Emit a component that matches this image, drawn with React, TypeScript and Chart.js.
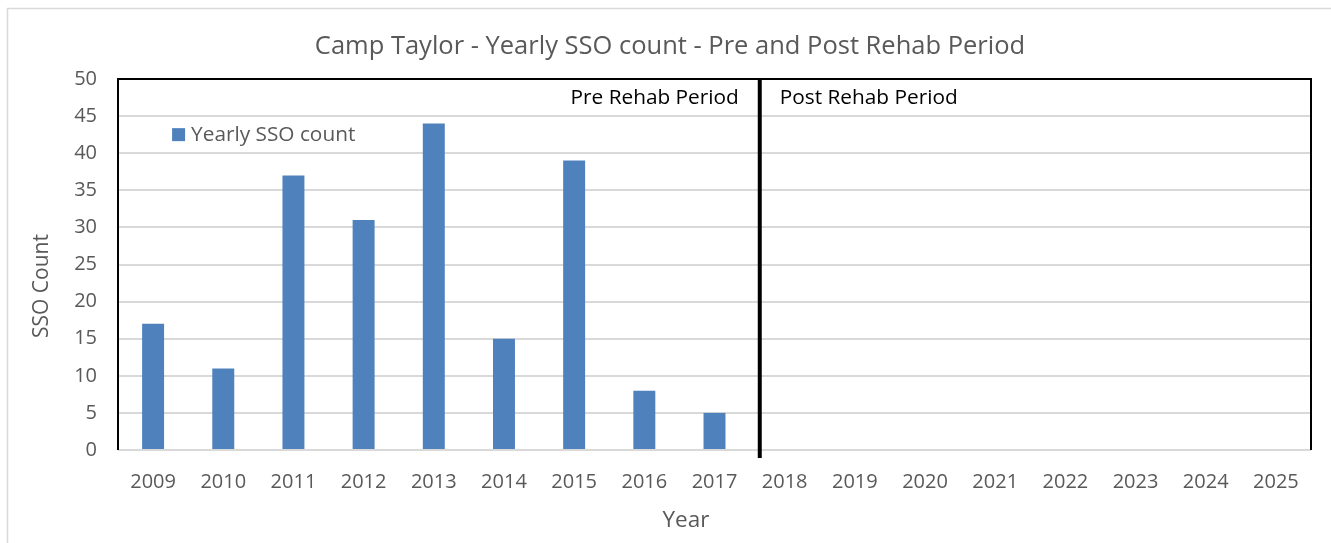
import React, { useEffect, useRef } from "react";
import { Chart, registerables } from "chart.js";

Chart.register(...registerables);

const TITLE = "Camp Taylor - Yearly SSO count - Pre and Post Rehab Period";
const X_TITLE = "Year";
const Y_TITLE = "SSO Count";
const SERIES_LABEL = "Yearly SSO count";
const YEARS = ["2009", "2010", "2011", "2012", "2013", "2014", "2015", "2016", "2017", "2018", "2019", "2020", "2021", "2022", "2023", "2024", "2025"];
const SSO_COUNTS = [17, 11, 37, 31, 44, 15, 39, 8, 5, 0, 0, 0, 0, 0, 0, 0, 0];
const Y_MIN = 0;
const Y_MAX = 50;
const Y_STEP = 5;
const DIVIDER_AFTER = "2017";
const DIVIDER_OFFSET = 0.645; // fraction of a category past the divider category's centre
const PRE_LABEL = "Pre Rehab Period";
const POST_LABEL = "Post Rehab Period";

const FONT = "'Open Sans', 'DejaVu Sans', sans-serif";
const GREY_TEXT = "#595959";
const BAR_COLOR = "#4F81BD";
const GRID_COLOR = "#D9D9D9";

const decorPlugin = {
  id: "decor",
  beforeDraw(chart: any) {
    const { ctx } = chart;
    ctx.save();
    ctx.strokeStyle = GRID_COLOR;
    ctx.lineWidth = 1.5;
    ctx.beginPath();
    ctx.moveTo(7.5, chart.height);
    ctx.lineTo(7.5, 8.5);
    ctx.lineTo(chart.width, 8.5);
    ctx.stroke();
    ctx.restore();
  },
  afterDraw(chart: any) {
    const { ctx, chartArea } = chart;
    const { left, right, top, bottom } = chartArea;
    const xs = chart.scales.x;
    ctx.save();
    // plot border (left, top, right)
    ctx.strokeStyle = "#000000";
    ctx.lineWidth = 2;
    ctx.beginPath();
    ctx.moveTo(left, bottom);
    ctx.lineTo(left, top);
    ctx.lineTo(right, top);
    ctx.lineTo(right, bottom);
    ctx.stroke();

    // divider
    const idx = YEARS.indexOf(DIVIDER_AFTER);
    const cw = xs.getPixelForValue(idx + 1) - xs.getPixelForValue(idx);
    const dx = xs.getPixelForValue(idx) + cw * DIVIDER_OFFSET;
    ctx.lineWidth = 4;
    ctx.beginPath();
    ctx.moveTo(dx, top);
    ctx.lineTo(dx, bottom + 8);
    ctx.stroke();

    // period labels
    ctx.fillStyle = "#000000";
    ctx.font = `20.8px ${FONT}`;
    ctx.textBaseline = "middle";
    const ly = chart.scales.y.getPixelForValue(47.4);
    ctx.textAlign = "right";
    ctx.fillText(PRE_LABEL, dx - 21, ly);
    ctx.textAlign = "left";
    ctx.fillText(POST_LABEL, dx + 20, ly);

    // legend
    const legY = chart.scales.y.getPixelForValue(42.5);
    const lx = xs.getPixelForValue(0) + 19;
    ctx.fillStyle = BAR_COLOR;
    ctx.fillRect(lx, legY - 6.5, 13, 13);
    ctx.fillStyle = GREY_TEXT;
    ctx.textAlign = "left";
    ctx.fillText(SERIES_LABEL, lx + 19, legY);

    // title
    ctx.font = `25.5px ${FONT}`;
    ctx.textAlign = "center";
    ctx.fillText(TITLE, 670, 47);

    // axis titles
    ctx.font = `22.5px ${FONT}`;
    ctx.fillText(X_TITLE, 686, 521);
    ctx.font = `21px ${FONT}`;
    ctx.translate(42, 286);
    ctx.rotate(-Math.PI / 2);
    ctx.fillText(Y_TITLE, 0, 0);
    ctx.restore();
  },
};

export default function App() {
  const ref = useRef<HTMLCanvasElement | null>(null);

  useEffect(() => {
    if (!ref.current) return;
    const chart = new Chart(ref.current, {
      type: "bar",
      data: {
        labels: YEARS,
        datasets: [
          {
            label: SERIES_LABEL,
            data: SSO_COUNTS,
            backgroundColor: BAR_COLOR,
            borderWidth: 0,
            barPercentage: 0.313,
            categoryPercentage: 1,
          },
        ],
      },
      options: {
        responsive: false,
        animation: false,
        layout: { padding: { left: 0, right: 20, top: 79, bottom: 0 } },
        plugins: {
          legend: { display: false },
          title: { display: false },
          tooltip: { enabled: false },
        },
        scales: {
          x: {
            grid: { display: false, drawTicks: false },
            border: { display: false },
            ticks: {
              color: GREY_TEXT,
              font: { family: FONT, size: 20 },
              padding: 20,
              autoSkip: false,
              maxRotation: 0,
            },
            afterFit(scale: any) {
              scale.height = 93;
            },
          },
          y: {
            min: Y_MIN,
            max: Y_MAX,
            grid: { color: GRID_COLOR, lineWidth: 2, drawTicks: false },
            border: { display: false },
            ticks: {
              stepSize: Y_STEP,
              color: GREY_TEXT,
              font: { family: FONT, size: 20 },
              padding: 21,
            },
            afterFit(scale: any) {
              scale.width = 118;
            },
          },
        },
      },
      plugins: [decorPlugin],
    });
    return () => chart.destroy();
  }, []);

  return (
    <div style={{ position: "fixed", left: 0, top: 0, width: 1331, height: 543, background: "#fff" }}>
      <canvas ref={ref} width={1331} height={543} />
    </div>
  );
}
